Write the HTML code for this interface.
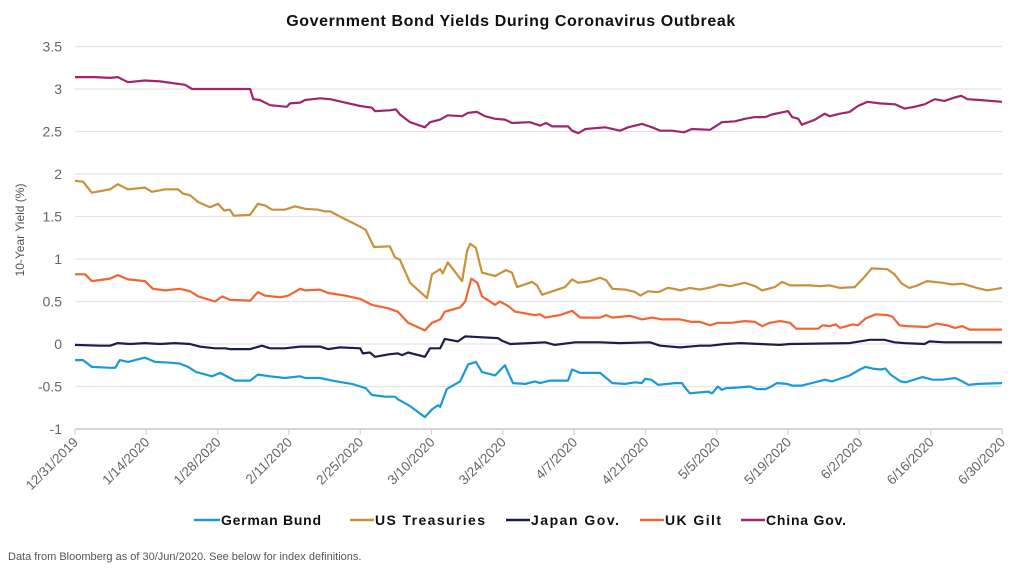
<!DOCTYPE html>
<html><head><meta charset="utf-8"><style>
body{margin:0;background:#fff;width:1024px;height:576px;overflow:hidden;font-family:"Liberation Sans",sans-serif}
</style></head><body>
<svg id="chart" width="1024" height="576" xmlns="http://www.w3.org/2000/svg">
<text x="511" y="26" text-anchor="middle" font-size="16" font-weight="bold" letter-spacing="0.6" fill="#111">Government Bond Yields During Coronavirus Outbreak</text>
<text transform="translate(24,230) rotate(-90)" text-anchor="middle" font-size="12" fill="#555">10-Year Yield (%)</text>
<g id="grid"></g><g id="xaxis"></g><g id="lines"></g>
<g font-size="14" font-weight="bold" fill="#111">
<line x1="194" y1="520" x2="220" y2="520" stroke="#1a9ad6" stroke-width="2.5"/><text x="221" y="525" textLength="100">German Bund</text>
<line x1="350" y1="520" x2="374" y2="520" stroke="#c8913b" stroke-width="2.5"/><text x="375" y="525" textLength="110">US Treasuries</text>
<line x1="506" y1="520" x2="530" y2="520" stroke="#1b1f4b" stroke-width="2.5"/><text x="531" y="525" textLength="88">Japan Gov.</text>
<line x1="640" y1="520" x2="664" y2="520" stroke="#f26430" stroke-width="2.5"/><text x="665" y="525" textLength="56">UK Gilt</text>
<line x1="741" y1="520" x2="765" y2="520" stroke="#a0256e" stroke-width="2.5"/><text x="766" y="525" textLength="80">China Gov.</text>
</g>
<text x="8" y="560" font-size="11" fill="#555">Data from Bloomberg as of 30/Jun/2020. See below for index definitions.</text>
</svg>
<script>
const yTicks=[3.5,3,2.5,2,1.5,1,0.5,0,-0.5,-1];
const yTickLabels=["3.5","3","2.5","2","1.5","1","0.5","0","-0.5","-1"];
const xTickDays=[0,14,28,42,56,70,84,98,112,126,140,154,168,182];
const xTickLabels=["12/31/2019","1/14/2020","1/28/2020","2/11/2020","2/25/2020","3/10/2020","3/24/2020","4/7/2020","4/21/2020","5/5/2020","5/19/2020","6/2/2020","6/16/2020","6/30/2020"];
const chinaDays=[0,3.9,6.9,8.4,10.4,13.7,16.7,21.6,23,34.4,35,36.3,38.3,41.6,42.2,44.2,45.2,48.1,50.1,53,56,58.3,58.9,61.8,63,63.8,65.8,68.7,69.7,71.7,73.2,76,77.2,78.9,80.5,82.5,84.4,85.8,89.3,91.3,92.5,93.7,96.8,97.6,98.8,100.2,104.1,107,108.6,111.3,113.3,114.9,117.2,119.6,121.1,124.7,127,129.6,131.5,133.5,135.5,136.8,138.4,140,140.8,142,142.7,145.3,147.2,148.2,150.2,152.1,153.7,155.6,158,161,162.9,164.8,166.8,168.8,170.7,172.7,174,175.2,177.6,182];
const chinaVals=[3.14,3.14,3.13,3.14,3.08,3.1,3.09,3.05,3.0,3.0,2.88,2.87,2.81,2.79,2.83,2.84,2.87,2.89,2.88,2.84,2.8,2.78,2.74,2.75,2.76,2.7,2.61,2.55,2.61,2.64,2.69,2.68,2.72,2.73,2.68,2.65,2.64,2.6,2.61,2.57,2.6,2.56,2.56,2.51,2.48,2.53,2.55,2.51,2.55,2.59,2.55,2.51,2.51,2.49,2.53,2.52,2.61,2.62,2.65,2.67,2.67,2.7,2.72,2.74,2.67,2.65,2.58,2.64,2.71,2.68,2.71,2.73,2.8,2.85,2.83,2.82,2.77,2.79,2.82,2.88,2.86,2.9,2.92,2.88,2.87,2.85];
const usDays=[0,1.6,3.3,6.9,8.4,10.4,13.7,15.1,17.7,20.2,21.2,22.6,24.2,26.5,28.1,29.3,30.4,31.2,34.4,35.9,37.3,38.7,41.2,43.2,45.2,47.7,49.1,50.1,52,56,57.1,58.7,61.8,62.8,63.8,65.8,69.1,70.1,71.7,72.2,73.2,76,77,77.6,78.7,79.9,82.5,83.4,84.6,85.8,86.8,89.7,90.7,91.7,93.3,96.2,97.6,98.8,101.1,103.1,104.3,105.5,108,110,111,112.5,114.5,116.4,117.6,118.8,120.7,122.7,125.1,126.6,128.6,131.5,133.5,134.9,137.4,138.8,140.4,144.3,146.2,148.2,150.2,153.1,155,156.4,159.5,160.9,162.3,163.8,165.4,167.3,170.3,172.2,174.2,177.1,179.1,182];
const usVals=[1.92,1.91,1.78,1.82,1.88,1.82,1.84,1.79,1.82,1.82,1.77,1.75,1.67,1.61,1.65,1.57,1.58,1.51,1.52,1.65,1.63,1.58,1.58,1.62,1.59,1.58,1.56,1.56,1.5,1.38,1.34,1.14,1.15,1.02,0.99,0.72,0.54,0.82,0.88,0.83,0.96,0.74,1.1,1.18,1.13,0.84,0.8,0.83,0.87,0.84,0.67,0.73,0.69,0.58,0.61,0.67,0.76,0.72,0.74,0.78,0.75,0.65,0.64,0.61,0.57,0.62,0.61,0.66,0.65,0.63,0.66,0.64,0.67,0.7,0.68,0.72,0.68,0.63,0.67,0.73,0.69,0.69,0.68,0.69,0.66,0.67,0.79,0.89,0.88,0.82,0.71,0.66,0.69,0.74,0.72,0.7,0.71,0.66,0.63,0.66];
const ukDays=[0,2,3.3,6.9,8.4,10.4,13.7,15.3,17.7,20.6,22.6,24.2,27.5,28.9,30.4,34.4,35.9,37.3,40.3,41.9,44.2,45.2,48.1,49.7,53,56,58.3,61.5,63.4,65.4,68.7,70.1,71.7,72.6,75.6,76.6,77.8,79,79.9,82.5,83.4,85,86.4,90.3,91.3,92.3,95.2,97.6,99.2,103.1,104.3,105.5,109,111.3,113.3,115.3,118.8,121.1,122.7,124.7,126.2,128.9,131.5,133.5,134.9,136.4,138.4,140.4,141.6,145.9,146.8,148.2,149.4,150.2,152.7,153.7,155.2,157.2,159.5,160.5,161.9,163.3,167.3,169.2,171.2,172.8,174.2,175.6,179.1,182];
const ukVals=[0.82,0.82,0.74,0.77,0.81,0.76,0.74,0.65,0.63,0.65,0.62,0.56,0.5,0.56,0.52,0.51,0.61,0.57,0.55,0.57,0.65,0.63,0.64,0.6,0.57,0.53,0.46,0.42,0.38,0.25,0.16,0.25,0.29,0.38,0.43,0.5,0.77,0.72,0.56,0.46,0.5,0.45,0.38,0.34,0.35,0.31,0.34,0.39,0.31,0.31,0.34,0.31,0.33,0.29,0.31,0.29,0.29,0.26,0.26,0.22,0.25,0.25,0.27,0.26,0.21,0.25,0.27,0.25,0.18,0.18,0.22,0.21,0.23,0.19,0.23,0.22,0.3,0.35,0.34,0.32,0.22,0.21,0.2,0.24,0.22,0.19,0.21,0.17,0.17,0.17];
const japanDays=[0,4.9,6.9,8.4,10.8,13.7,16.7,19.6,22.6,24.5,27.5,29.5,30.4,34.4,36.7,38.3,41.2,44.2,48.1,49.7,52,56,56.5,57.9,58.9,61.8,63.4,64.2,65.4,68.7,69.7,71.7,72.6,75.2,76.6,79.5,83,83.8,85.4,89.3,92.3,94.2,98.2,103.1,107,112.9,114.9,118.8,122.7,124.7,127.6,130.6,134.5,138.4,140.4,152.1,156,158.9,160.9,162.9,166.8,167.7,170.7,182];
const japanVals=[-0.01,-0.02,-0.02,0.01,0,0.01,0,0.01,0,-0.03,-0.05,-0.05,-0.06,-0.06,-0.02,-0.05,-0.05,-0.03,-0.03,-0.06,-0.04,-0.05,-0.11,-0.1,-0.15,-0.12,-0.11,-0.13,-0.1,-0.15,-0.05,-0.05,0.06,0.03,0.09,0.08,0.07,0.04,0,0.01,0.02,-0.01,0.02,0.02,0.01,0.02,-0.02,-0.04,-0.02,-0.02,0,0.01,0,-0.01,0,0.01,0.05,0.05,0.02,0.01,0,0.03,0.02,0.02];
const bundDays=[0,1.6,3.3,6.9,7.9,8.8,10.4,13.7,15.7,18.7,20.6,22.2,23.8,26.9,28.5,31.4,34.4,35.9,38.3,41.2,44.2,45.2,48.1,50.5,52.4,54.4,56,57.1,58.3,60.9,62.8,63.4,65.8,68.7,70.1,71.3,71.7,73,75.6,77.2,78.7,79.9,82.5,84.4,86,88.4,90.3,91.3,93.3,96.8,97.6,99.2,103.1,105.5,108,110,111.3,111.9,113.1,114.5,117.8,119.2,119.6,120.7,122.7,124.3,125.1,126.2,127,127.8,130.6,132.5,133.9,135.5,136.4,137.8,139.8,140.8,142.7,146.6,147.2,148.6,150.6,152.1,154.1,155.2,156.6,158.1,159.1,160.1,162.1,163.1,166.4,168.4,170.3,172.8,174.2,175.4,177.3,182];
const bundVals=[-0.19,-0.19,-0.27,-0.28,-0.28,-0.19,-0.21,-0.16,-0.21,-0.22,-0.23,-0.27,-0.33,-0.38,-0.34,-0.43,-0.43,-0.36,-0.38,-0.4,-0.38,-0.4,-0.4,-0.43,-0.45,-0.47,-0.5,-0.52,-0.6,-0.62,-0.62,-0.65,-0.73,-0.86,-0.77,-0.72,-0.74,-0.53,-0.44,-0.24,-0.21,-0.33,-0.37,-0.25,-0.46,-0.47,-0.44,-0.46,-0.43,-0.43,-0.3,-0.34,-0.34,-0.46,-0.47,-0.45,-0.46,-0.41,-0.42,-0.48,-0.46,-0.46,-0.5,-0.58,-0.57,-0.56,-0.58,-0.5,-0.54,-0.52,-0.51,-0.5,-0.53,-0.53,-0.51,-0.46,-0.47,-0.49,-0.49,-0.43,-0.42,-0.44,-0.4,-0.37,-0.3,-0.27,-0.29,-0.3,-0.29,-0.36,-0.44,-0.45,-0.39,-0.42,-0.42,-0.4,-0.44,-0.48,-0.47,-0.46];

const NS="http://www.w3.org/2000/svg";
const X0=75,X1=1002,Y0=344,PX=85;
function xs(d){return X0+(X1-X0)*d/182;}
function ys(v){return Y0-PX*v;}
function mk(tag,attrs,parent){const e=document.createElementNS(NS,tag);for(const k in attrs)e.setAttribute(k,attrs[k]);parent.appendChild(e);return e;}
const grid=document.getElementById('grid');
yTicks.forEach((t,i)=>{
  const l=mk('line',{x1:X0,x2:X1,y1:ys(t),y2:ys(t),stroke:t===-1?'#d6d6d6':'#e3e3e3','stroke-width':t===-1?2:1.3},grid);
  
  
  const tx=mk('text',{x:62,y:ys(t)+5,'text-anchor':'end','font-size':14,fill:'#666'},grid);
  tx.textContent=yTickLabels[i];
  
  
});
const xa=document.getElementById('xaxis');
xTickDays.forEach((d,i)=>{
  const x=xs(d);
  const t=mk('line',{x1:x,x2:x,y1:ys(-1),y2:ys(-1)+6,stroke:'#d6d6d6','stroke-width':1.3},xa);
  
  
  const tx=mk('text',{transform:`translate(${x+4},${ys(-1)+14}) rotate(-45)`,'text-anchor':'end','font-size':13.5,fill:'#666'},xa);
  tx.textContent=xTickLabels[i];
  
  
});
const series=[['china-gov-line',chinaDays,chinaVals,'#a0256e'],['us-treasuries-line',usDays,usVals,'#c8913b'],['uk-gilt-line',ukDays,ukVals,'#f26430'],['japan-gov-line',japanDays,japanVals,'#1b1f4b'],['german-bund-line',bundDays,bundVals,'#1a9ad6']];
const lg=document.getElementById('lines');
series.forEach(s=>{
  const pts=s[1].map((d,i)=>xs(d).toFixed(1)+','+ys(s[2][i]).toFixed(1)).join(' ');
  const p=mk('polyline',{points:pts,fill:'none',stroke:s[3],'stroke-width':2.2,'stroke-linejoin':'round'},lg);
  
  
});
</script>
</body></html>
